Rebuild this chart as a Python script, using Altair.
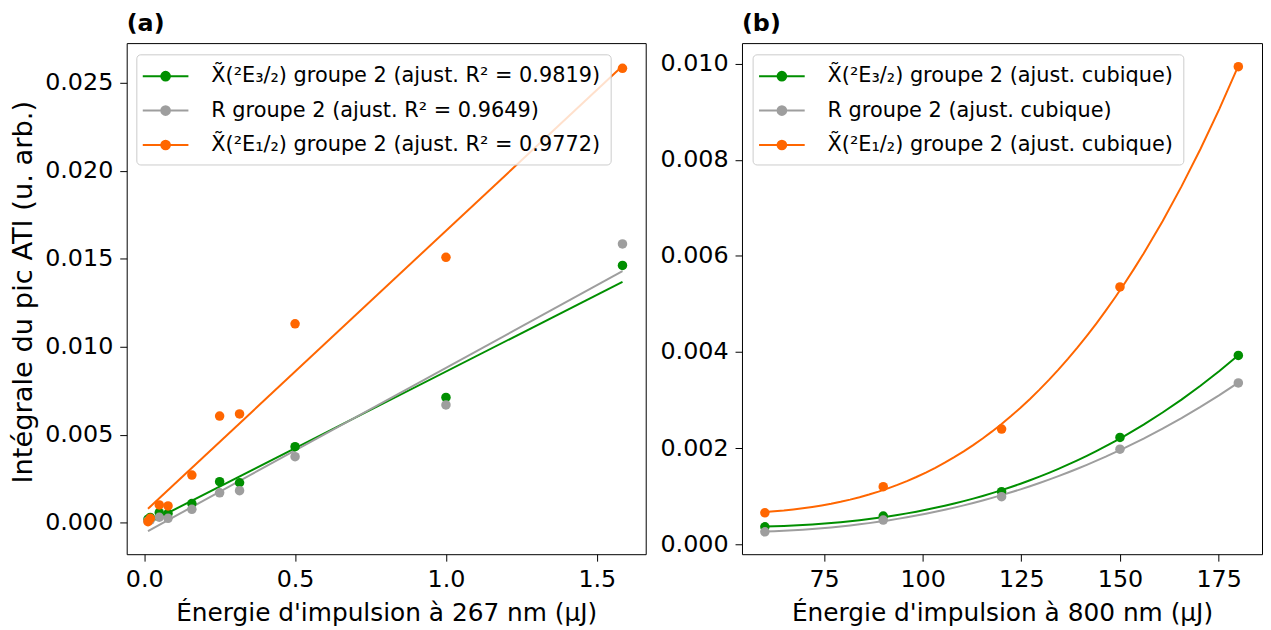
import altair as alt
import pandas as pd

# ---------------- data ----------------
# Panel (a): pulse energy at 267 nm (uJ)
energy_267 = [0.0126, 0.02, 0.05, 0.079, 0.158, 0.25, 0.316, 0.5, 1.0, 1.585]
a_x32 = [0.0002, 0.0003, 0.00057, 0.00052, 0.00109, 0.00233, 0.00227, 0.00432, 0.00712, 0.01462]
a_r = [0.0001, 0.00015, 0.00031, 0.00025, 0.00076, 0.0017, 0.00182, 0.00375, 0.00669, 0.01584]
a_x12 = [0.00006, 0.00025, 0.00101, 0.00095, 0.00271, 0.00606, 0.00618, 0.0113, 0.01508, 0.02582]
labels_a = [
    "X\u0303(\u00b2E\u2083/\u2082) groupe 2 (ajust. R\u00b2 = 0.9819)",
    "R groupe 2 (ajust. R\u00b2 = 0.9649)",
    "X\u0303(\u00b2E\u2081/\u2082) groupe 2 (ajust. R\u00b2 = 0.9772)",
]

# Panel (b): pulse energy at 800 nm (uJ)
energy_800 = [60, 90, 120, 150, 180]
b_x32 = [0.000362, 0.000585, 0.001093, 0.002222, 0.003929]
b_r = [0.000257, 0.000502, 0.000989, 0.001979, 0.003358]
b_x12 = [0.000654, 0.001198, 0.002397, 0.005356, 0.00994]
labels_b = [
    "X\u0303(\u00b2E\u2083/\u2082) groupe 2 (ajust. cubique)",
    "R groupe 2 (ajust. cubique)",
    "X\u0303(\u00b2E\u2081/\u2082) groupe 2 (ajust. cubique)",
]

colors = ["#008f00", "#9e9e9e", "#ff6600"]

ticks_a_x = [0.0, 0.5, 1.0, 1.5]
ticks_a_y = [0.0, 0.005, 0.010, 0.015, 0.020, 0.025]
ticks_b_x = [75, 100, 125, 150, 175]
ticks_b_y = [0.0, 0.002, 0.004, 0.006, 0.008, 0.010]

PLOT_H = 515


def long_table(xs, series, labels):
    rows = []
    for lab, ys in zip(labels, series):
        for x, y in zip(xs, ys):
            rows.append({"x": x, "y": y, "serie": lab})
    return pd.DataFrame(rows)


df_a = long_table(energy_267, [a_x32, a_r, a_x12], labels_a)
df_b = long_table(energy_800, [b_x32, b_r, b_x12], labels_b)

FONT = "DejaVu Sans"
SYM = "M-2,0L2,0M0.38,0A0.38,0.38,0,1,1,-0.38,0A0.38,0.38,0,1,1,0.38,0Z"


def legend(lx, ly):
    return alt.Legend(
        orient="none", legendX=lx, legendY=ly, title=None,
        symbolType=SYM, symbolSize=529, symbolStrokeWidth=2,
        symbolOffset=7.5, symbolOpacity=1,
        labelOffset=33.5, labelFontSize=21, labelFont=FONT, labelColor="black",
        labelLimit=0, rowPadding=11.7, padding=9.5,
        strokeColor="#cccccc", cornerRadius=4, fillColor="rgba(255,255,255,0.8)",
    )


def panel(df, labels, xdom, ydom, xticks, yticks, xfmt, yfmt, xtitle, ytitle,
          ptitle, method, lx, ly, width):
    xs = alt.X("x:Q", scale=alt.Scale(domain=xdom, nice=False, zero=False),
               axis=alt.Axis(values=xticks, format=xfmt, title=xtitle))
    yaxis = dict(values=yticks, format=yfmt, title=ytitle)
    if ytitle:
        yaxis["titleY"] = PLOT_H / 2 - 7
    ys = alt.Y("y:Q", scale=alt.Scale(domain=ydom, nice=False, zero=False),
               axis=alt.Axis(**yaxis))
    reg = dict(groupby=["serie"], method=method)
    if method == "poly":
        reg["order"] = 3
    lines = (
        alt.Chart(df)
        .transform_regression("x", "y", **reg)
        .mark_line(strokeWidth=2, clip=True)
        .encode(
            x=xs, y=ys,
            stroke=alt.Stroke("serie:N", scale=alt.Scale(domain=labels, range=colors),
                              legend=legend(lx, ly)),
        )
    )
    pts = (
        alt.Chart(df)
        .mark_circle(size=92, opacity=1)
        .encode(
            x=xs, y=ys,
            fill=alt.Fill("serie:N", scale=alt.Scale(domain=labels, range=colors),
                          legend=legend(lx, ly)),
        )
    )
    return alt.layer(lines, pts).properties(
        width=width, height=PLOT_H,
        title=alt.Title(ptitle, anchor="start", frame="group", fontSize=24,
                        fontWeight="bold", font=FONT, color="black", offset=7.7),
    )


pa = panel(df_a, labels_a, [-0.058, 1.662], [-0.00179, 0.027255], ticks_a_x, ticks_a_y,
           ".1f", ".3f", "Énergie d'impulsion à 267 nm (µJ)", "Intégrale du pic ATI (u. arb.)",
           "(a)", "linear", 9.7, 11.3, 523)
pb = panel(df_b, labels_b, [54.2, 186.0], [-0.000208, 0.010431], ticks_b_x, ticks_b_y,
           "d", ".3f", "Énergie d'impulsion à 800 nm (µJ)", None,
           "(b)", "poly", 10.7, 11.3, 524)

chart = (
    alt.hconcat(pa, pb, spacing=12)
    .resolve_scale(x="independent", y="independent", fill="independent", stroke="independent")
    .resolve_legend(fill="independent", stroke="independent")
    .configure_view(stroke="black", strokeWidth=1)
    .configure_axis(
        labelFont=FONT, labelFontSize=24, labelColor="black",
        titleFont=FONT, titleFontWeight="normal", titleColor="black",
        tickColor="black", tickSize=7, tickWidth=1, domain=False, grid=False,
        labelFlush=False,
    )
    .configure_axisX(labelPadding=7, titlePadding=9, titleFontSize=25)
    .configure_axisY(labelPadding=7, titlePadding=7.5, titleFontSize=27.5)
    .properties(padding={"left": 0.6, "top": 0, "right": 0, "bottom": 0}, background="white")
)

chart.save("out.html", embed_options={"renderer": "svg", "actions": False})
